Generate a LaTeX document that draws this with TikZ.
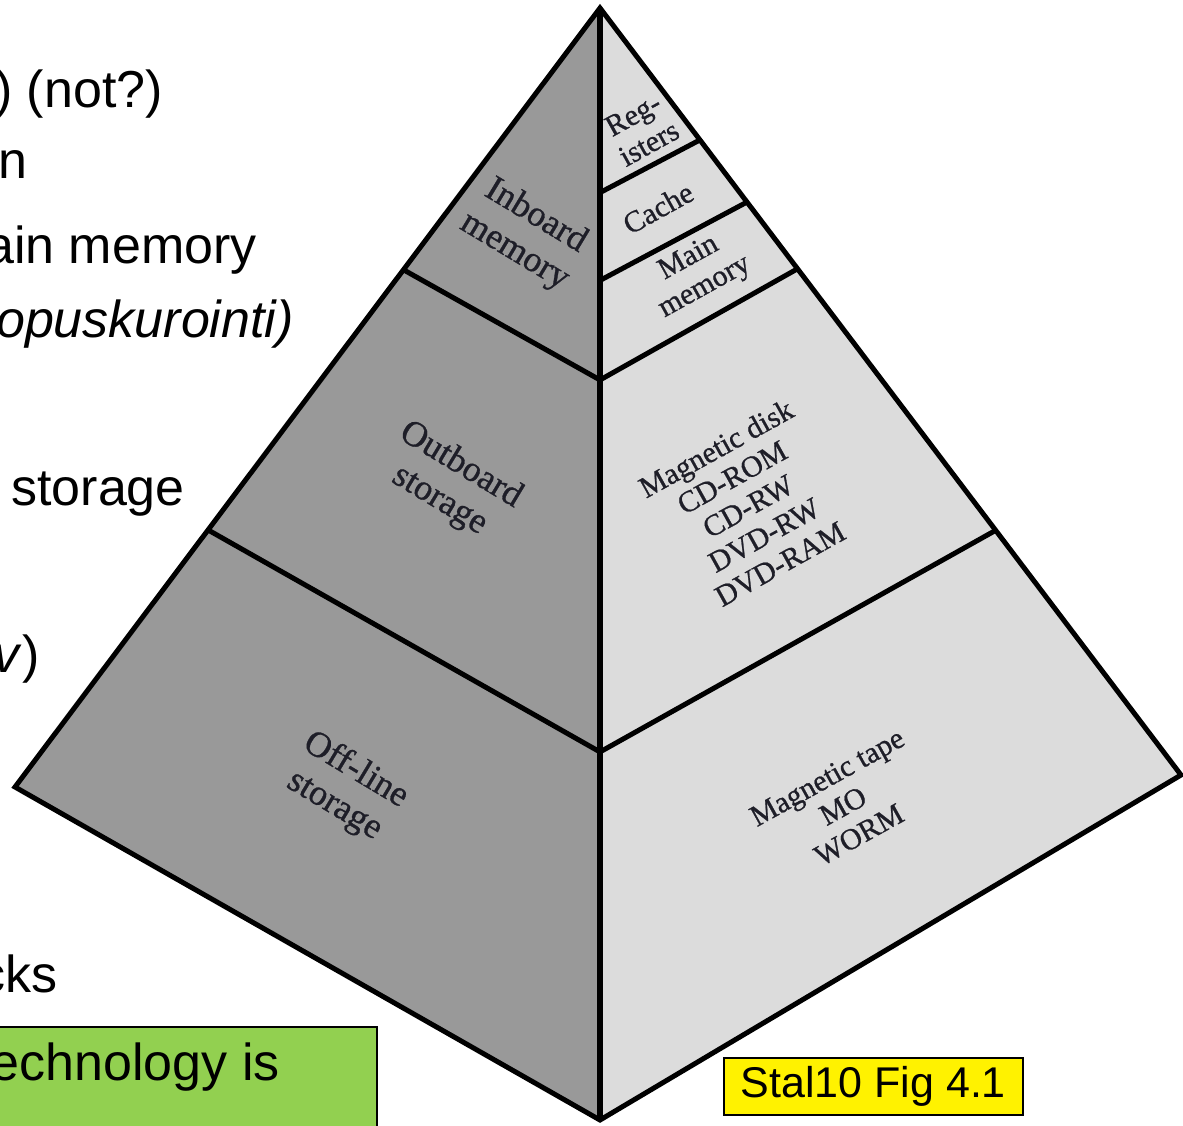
\documentclass[tikz,border=0pt]{standalone}
\usepackage{fontspec}
\setmainfont{Liberation Sans}
\newfontfamily\lblfont[FakeBold=0.8]{Liberation Serif}
\usetikzlibrary{calc}
\definecolor{darkface}{HTML}{999999}
\definecolor{lightface}{HTML}{DCDCDC}
\definecolor{notegreen}{HTML}{92D050}
\definecolor{labelink}{HTML}{1E1E28}
\begin{document}
\begin{tikzpicture}[x=1pt,y=-1pt,
  slidetext/.style={inner sep=0pt,anchor=base east,font=\fontsize{52}{60}\selectfont},
  edge/.style={line width=5pt,line join=miter,line cap=butt},
  bigLabel/.style={font=\lblfont\fontsize{36}{41}\selectfont,text=labelink,align=center,inner sep=0pt,rotate=-31},
  smallLabel/.style={font=\lblfont\fontsize{30}{33}\selectfont,text=labelink,align=center,inner sep=0pt,rotate=29},
  tagbox/.style={draw=black,line width=1.5pt,inner sep=0pt}]
\useasboundingbox (0,0) rectangle (1183,1125);
\clip (0,0) rectangle (1183,1125);

% pyramid corners
\coordinate (apex) at (600,8);
\coordinate (lc) at (15,787);
\coordinate (rc) at (1181,775);
\coordinate (bot) at (600,1120);

% faces
\fill[darkface] (apex) -- (lc) -- (bot) -- cycle;
\fill[lightface] (apex) -- (rc) -- (bot) -- cycle;

% left face levels
\coordinate (l1) at ($(apex)!0.336!(lc)$);
\coordinate (l2) at ($(apex)!0.670!(lc)$);
\coordinate (c1) at ($(apex)!0.3345!(bot)$);
\coordinate (c2) at ($(apex)!0.669!(bot)$);
\draw[edge] (l1) -- (c1);
\draw[edge] (l2) -- (c2);

% right face levels
\coordinate (r1) at ($(apex)!0.172!(rc)$);
\coordinate (r2) at ($(apex)!0.253!(rc)$);
\coordinate (r3) at ($(apex)!0.340!(rc)$);
\coordinate (r4) at ($(apex)!0.681!(rc)$);
\coordinate (d1) at ($(apex)!0.166!(bot)$);
\coordinate (d2) at ($(apex)!0.245!(bot)$);
\draw[edge] (d1) -- (r1);
\draw[edge] (d2) -- (r2);
\draw[edge] (c1) -- (r3);
\draw[edge] (c2) -- (r4);

% outline and centre ridge
\draw[edge] (apex) -- (lc) -- (bot) -- (rc) -- cycle;
\draw[line width=5.5pt] (apex) -- (bot);

% face labels
\node[bigLabel] (inboard) at (525,234) {Inboard\\memory};
\node[bigLabel] (outboard) at (450,483) {Outboard\\storage};
\node[bigLabel] (offline) at (345,788) {Off-line\\storage};
\node[smallLabel] (regs) at (641,129) {Reg-\\isters};
\node[smallLabel] (cache) at (658,208) {Cache};
\node[smallLabel] (mainmem) at (697,273) {Main\\memory};
\node[smallLabel] (disks) at (748,506) {Magnetic disk\\CD-ROM\\CD-RW\\DVD-RW\\DVD-RAM};
\node[smallLabel] (tapes) at (843,806) {Magnetic tape\\MO\\WORM};

% slide text beside the pyramid
\node[slidetext] (t1) at (163,107) {) (not?)};
\node[slidetext] (t2) at (28,178) {n};
\node[slidetext] (t3) at (257,263) {ain memory};
\node[slidetext] (t4) at (294,337) {\itshape opuskurointi)};
\node[slidetext] (t5) at (185,505) {storage};
\node[slidetext] (t6) at (40,672) {\textit{v})};
\node[slidetext] (t7) at (58,992) {cks};

% green note box
\fill[notegreen] (-10,1027) rectangle (377,1140);
\draw[line width=1.5pt] (-10,1027) rectangle (377,1140);
\node[slidetext] (t8) at (280,1080) {echnology is};

% yellow figure tag
\node[tagbox,fill=yellow,minimum width=299pt,minimum height=57pt,
      font=\fontsize{43}{50}\selectfont,anchor=north west] (tag) at (723,1057) {Stal10 Fig 4.1};
\end{tikzpicture}
\end{document}
